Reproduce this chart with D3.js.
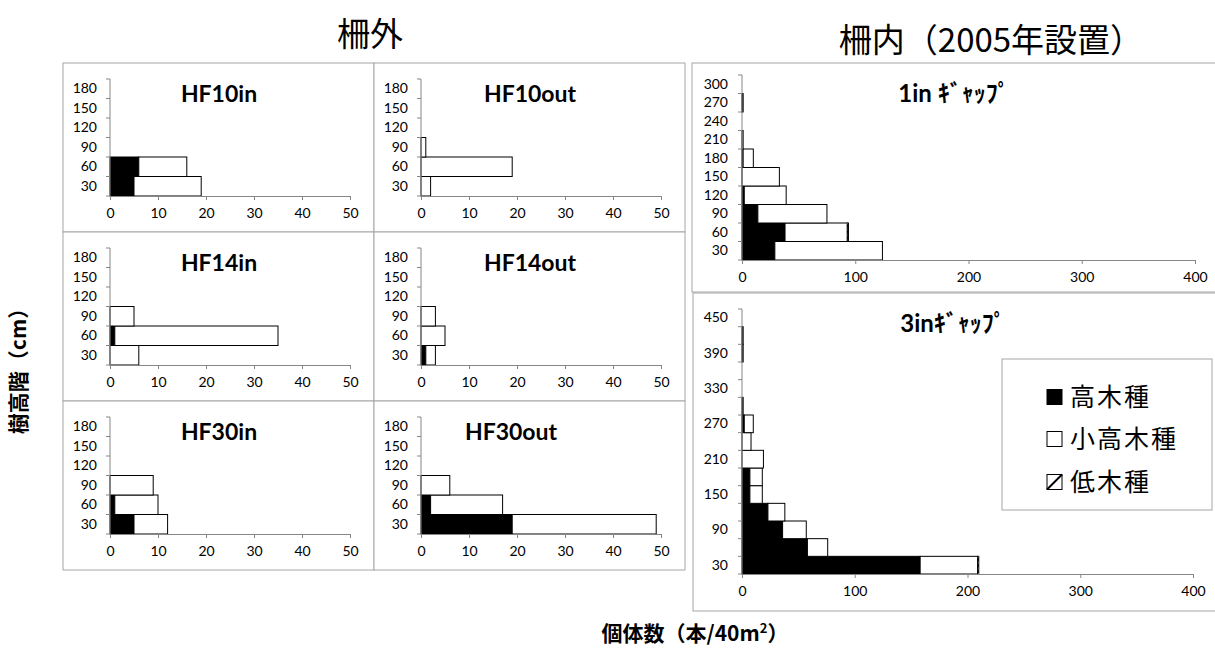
<!DOCTYPE html>
<html>
<head>
<meta charset="utf-8">
<script src="https://cdn.jsdelivr.net/npm/d3@7"></script>
<style>
  body { margin: 0; background: #fff; }
  svg { display: block; }
</style>
</head>
<body>
<svg id="chart" width="1215" height="648"></svg>
<script>
// Height classes (cm)
const heightsSmall = [30, 60, 90, 120, 150, 180];
const heights1in = [30, 60, 90, 120, 150, 180, 210, 240, 270, 300];
const heights3in = [30, 60, 90, 120, 150, 180, 210, 240, 270, 300, 330, 360, 390, 420, 450];
const labels3in = [30, 90, 150, 210, 270, 330, 390, 450];

const seriesNames = ["高木種", "小高木種", "低木種"];

// Stem counts per height class (本/40m²)
const hf10inTall   = [5, 6, 0, 0, 0, 0];
const hf10inSmall  = [14, 10, 0, 0, 0, 0];
const hf10outTall  = [0, 0, 0, 0, 0, 0];
const hf10outSmall = [2, 19, 1, 0, 0, 0];
const hf14inTall   = [0, 1, 0, 0, 0, 0];
const hf14inSmall  = [6, 34, 5, 0, 0, 0];
const hf14outTall  = [1, 0, 0, 0, 0, 0];
const hf14outSmall = [2, 5, 3, 0, 0, 0];
const hf30inTall   = [5, 1, 0, 0, 0, 0];
const hf30inSmall  = [7, 9, 9, 0, 0, 0];
const hf30outTall  = [19, 2, 0, 0, 0, 0];
const hf30outSmall = [30, 15, 6, 0, 0, 0];

const gap1inTall  = [29, 38, 14, 2, 0, 1, 0, 0, 1, 0];
const gap1inSmall = [95, 55, 61, 37, 33, 9, 1, 0, 0, 0];
const gap1inLow   = [0, 1, 0, 0, 0, 0, 0, 0, 0, 0];

const gap3inTall  = [158, 58, 36, 23, 7, 7, 0, 0, 2, 1, 0, 0, 1, 1, 0];
const gap3inSmall = [51, 18, 21, 15, 11, 11, 19, 8, 8, 0, 0, 0, 0, 0, 0];
const gap3inLow   = [1, 0, 0, 0, 0, 0, 0, 0, 0, 0, 0, 0, 0, 0, 0];

const ticksSmallX = [0, 10, 20, 30, 40, 50];
const ticksGapX = [0, 100, 200, 300, 400];

const svg = d3.select("#chart");
const FONT = "Lato, 'Noto Sans CJK JP', sans-serif";
const JP = "'Noto Sans CJK JP', sans-serif";
const AXIS = "#868686";
const BORDER = "#a6a6a6";
const TICK_FS = 14;

// diagonal hatch for 低木種
const defs = svg.append("defs");
const pat = defs.append("pattern")
  .attr("id", "hatch").attr("patternUnits", "userSpaceOnUse")
  .attr("width", 6).attr("height", 6);
pat.append("rect").attr("width", 6).attr("height", 6).attr("fill", "#fff");
pat.append("path").attr("d", "M-1,7 L7,-1").attr("stroke", "#000").attr("stroke-width", 1.6);

const fills = ["#000", "#fff", "url(#hatch)"];

function panel(o) {
  const g = svg.append("g").attr("transform", `translate(${o.x},${o.y})`);
  g.append("rect")
    .attr("width", o.w).attr("height", o.h)
    .attr("fill", "#fff").attr("stroke", BORDER).attr("stroke-width", 1);

  const x = d3.scaleLinear().domain([0, o.xMax]).range([o.left, o.right]);
  const y = d3.scaleBand().domain(o.cats).range([o.bottom, o.top]).padding(0);

  // stacked horizontal bars
  const rows = o.cats.map((c, i) => ({
    cat: c, tall: o.tall[i], small: o.small[i], low: o.low ? o.low[i] : 0
  }));
  const layers = d3.stack().keys(["tall", "small", "low"])(rows);
  layers.forEach((layer, li) => {
    g.append("g").selectAll("rect")
      .data(layer.filter(d => d[1] - d[0] > 0))
      .join("rect")
      .attr("x", d => x(d[0]))
      .attr("y", d => y(d.data.cat))
      .attr("width", d => x(d[1]) - x(d[0]))
      .attr("height", y.bandwidth())
      .attr("fill", fills[li])
      .attr("stroke", "#000")
      .attr("stroke-width", 1);
  });

  // x axis
  const xa = g.append("g")
    .attr("transform", `translate(0,${o.bottom})`)
    .call(d3.axisBottom(x).tickValues(o.xTicks).tickSize(4).tickSizeOuter(0).tickPadding(8));
  xa.select(".domain").attr("stroke", AXIS);
  xa.selectAll(".tick line").attr("stroke", AXIS);
  xa.selectAll("text").attr("font-family", FONT).attr("font-size", TICK_FS).attr("fill", "#000");

  // y axis: boundary ticks between classes, labels at class centres
  const ya = g.append("g").attr("transform", `translate(${x(0)},0)`);
  ya.append("line").attr("y1", o.bottom).attr("y2", o.top).attr("stroke", AXIS);
  const bounds = d3.range(o.cats.length + 1).map(i => o.bottom - i * y.step());
  ya.selectAll("line.b").data(bounds).join("line").attr("class", "b")
    .attr("x1", -4).attr("x2", 0).attr("y1", d => d).attr("y2", d => d)
    .attr("stroke", AXIS);
  const yl = ya.append("g")
    .call(d3.axisLeft(y).tickValues(o.yLabels || o.cats).tickSize(0).tickPadding(o.ypad || 13));
  yl.select(".domain").remove();
  yl.selectAll("text").attr("font-family", FONT).attr("font-size", TICK_FS).attr("fill", "#000");

  g.append("text")
    .attr("x", o.tx).attr("y", o.ty).attr("dy", "0.36em")
    .attr("text-anchor", "middle")
    .attr("font-family", FONT).attr("font-weight", "bold").attr("font-size", o.tsize || 23)
    .text(o.title);
  return g;
}

// fence-outside plots (3 rows x 2 columns)
const colX = [63, 374];
const rowY = [63, 232, 401];
const smallPlots = [
  ["HF10in", hf10inTall, hf10inSmall, 0, 0, 156],
  ["HF10out", hf10outTall, hf10outSmall, 1, 0, 156],
  ["HF14in", hf14inTall, hf14inSmall, 0, 1, 156],
  ["HF14out", hf14outTall, hf14outSmall, 1, 1, 156],
  ["HF30in", hf30inTall, hf30inSmall, 0, 2, 156],
  ["HF30out", hf30outTall, hf30outSmall, 1, 2, 137]
];
smallPlots.forEach(([title, tall, small, c, r, tx]) => {
  panel({
    x: colX[c], y: rowY[r], w: 311, h: 169,
    left: 47, right: 287, top: 16, bottom: 133,
    cats: heightsSmall, tall, small, xMax: 50, xTicks: ticksSmallX,
    title, tx, ty: 31
  });
});

// fenced gap plots
panel({
  x: 692, y: 63, w: 530, h: 229,
  left: 50, right: 503, top: 12, bottom: 197,
  cats: heights1in, tall: gap1inTall, small: gap1inSmall, low: gap1inLow,
  xMax: 400, xTicks: ticksGapX, ypad: 14,
  title: "1in ｷﾞｬｯﾌﾟ", tx: 262, ty: 30, tsize: 24
});

panel({
  x: 693, y: 293, w: 530, h: 318,
  left: 49, right: 500, top: 16, bottom: 281,
  cats: heights3in, yLabels: labels3in, tall: gap3inTall, small: gap3inSmall, low: gap3inLow,
  xMax: 400, xTicks: ticksGapX, ypad: 14,
  title: "3inｷﾞｬｯﾌﾟ", tx: 260, ty: 30, tsize: 24
});

// legend
const lg = svg.append("g").attr("transform", "translate(1002,359)");
lg.append("rect").attr("width", 210).attr("height", 151)
  .attr("fill", "#fff").attr("stroke", BORDER);
const legendY = [38, 80, 123];
seriesNames.forEach((name, i) => {
  const sx = 45, sy = legendY[i] - 7.5;
  lg.append("rect")
    .attr("x", sx).attr("y", sy).attr("width", 15).attr("height", 15)
    .attr("fill", i === 0 ? "#000" : "#fff").attr("stroke", "#000").attr("stroke-width", 1);
  if (i === 2) {
    lg.append("line")
      .attr("x1", sx).attr("y1", sy + 15).attr("x2", sx + 15).attr("y2", sy)
      .attr("stroke", "#000").attr("stroke-width", 2);
  }
  lg.append("text")
    .attr("x", 68).attr("y", legendY[i]).attr("dy", "0.36em")
    .attr("font-family", JP).attr("font-size", 25).attr("letter-spacing", 2)
    .text(name);
});

// headings
svg.append("text").attr("x", 370).attr("y", 34).attr("dy", "0.36em")
  .attr("text-anchor", "middle").attr("font-family", JP).attr("font-size", 33)
  .text("柵外");
svg.append("text").attr("x", 991).attr("y", 40).attr("dy", "0.36em")
  .attr("text-anchor", "middle").attr("font-family", JP).attr("font-size", 33)
  .text("柵内（2005年設置）");

// axis titles
svg.append("text")
  .attr("transform", "translate(18,366) rotate(-90)")
  .attr("dy", "0.36em").attr("text-anchor", "middle")
  .attr("font-family", JP).attr("font-weight", "bold").attr("font-size", 21)
  .text("樹高階（cm）");

const xt = svg.append("text")
  .attr("x", 695).attr("y", 633).attr("dy", "0.36em").attr("text-anchor", "middle")
  .attr("font-family", JP).attr("font-weight", "bold").attr("font-size", 21);
xt.append("tspan").text("個体数（本/40m");
xt.append("tspan").attr("font-size", 13).attr("dy", "-0.6em").text("2");
xt.append("tspan").attr("dy", "0.4em").text("）");
</script>
</body>
</html>
